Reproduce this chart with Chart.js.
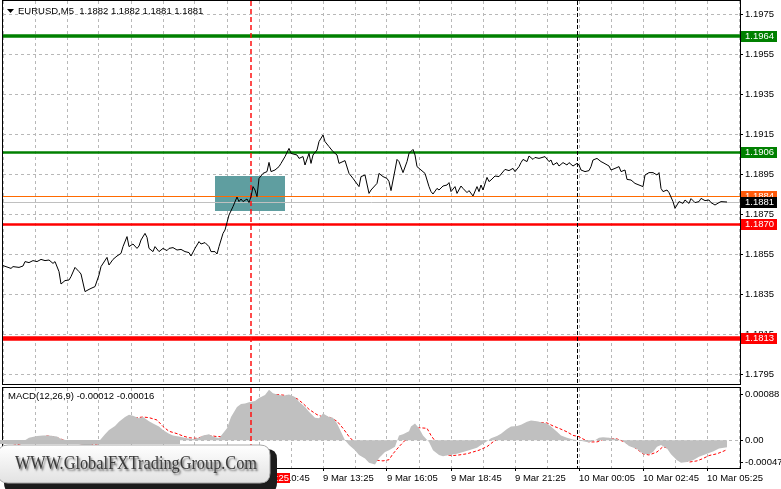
<!DOCTYPE html>
<html>
<head>
<meta charset="utf-8">
<script src="https://cdn.jsdelivr.net/npm/chart.js@4.4.1/dist/chart.umd.min.js"></script>
<style>
html, body { margin: 0; padding: 0; background: #fff; overflow: hidden; }
#wrap { position: relative; width: 781px; height: 489px; }
canvas { position: absolute; left: 0; }
#main { top: 0; }
#macd { top: 386px; }
</style>
</head>
<body>
<div id="wrap">
<canvas id="main" width="781" height="386"></canvas>
<canvas id="macd" width="781" height="103"></canvas>
</div>
<script>
// ===============================
// Data (bars = 5 minute bars counted from 9 Mar 00:00)
// ===============================
const symbolTitle = "EURUSD,M5  1.1882 1.1882 1.1881 1.1881";
const macdTitle = "MACD(12,26,9) -0.00012 -0.00016";
const watermarkText = "WWW.GlobalFXTradingGroup.Com";

const priceBar = [1,5,6,9,11,12,14,16,18,20,22,24,26,27,29,30,32,34,35,37,39,40,42,44,45,47,49,50,53,54,56,58,60,61,63,64,66,68,69,70,72,73,74,76,77,79,81,83,84,86,88,90,92,94,95,97,99,100,102,104,105,107,108,109,111,112,114,116,118,119,120,121,123,124,125,126,127,128,129,131,133,134,135,137,139,140,142,144,145,148,149,151,152,154,155,156,158,159,161,162,164,166,168,169,172,174,176,179,180,182,184,185,188,189,191,193,194,195,197,198,199,201,203,204,206,207,208,210,212,214,215,216,218,219,221,223,224,225,227,228,230,231,233,234,236,238,239,240,241,243,244,245,247,249,252,254,256,257,259,260,261,263,264,266,267,269,272,274,275,276,278,279,281,283,284,286,288,289,290,292,294,295,296,298,300,301,304,305,307,309,310,312,313,315,317,319,321,322,324,326,328,329,330,331,333,334,336,337,339,341,342,344,345,347,349,350,352,354,355,357,359,360,363];
const priceClose = [1.18492,1.18478,1.18487,1.18483,1.18490,1.18512,1.18507,1.18517,1.18512,1.18523,1.18517,1.18520,1.18503,1.18512,1.18462,1.18400,1.18417,1.18420,1.18437,1.18483,1.18462,1.18450,1.18362,1.18373,1.18378,1.18387,1.18445,1.18487,1.18533,1.18495,1.18523,1.18540,1.18553,1.18587,1.18637,1.18587,1.18600,1.18578,1.18590,1.18620,1.18653,1.18633,1.18578,1.18562,1.18587,1.18562,1.18578,1.18567,1.18578,1.18582,1.18570,1.18573,1.18562,1.18557,1.18540,1.18578,1.18612,1.18600,1.18607,1.18587,1.18562,1.18562,1.18550,1.18587,1.18653,1.18670,1.18745,1.18787,1.18835,1.18812,1.18825,1.18812,1.18825,1.18807,1.18837,1.18887,1.18870,1.18837,1.18928,1.18953,1.18962,1.19008,1.18962,1.18970,1.18987,1.19003,1.19037,1.19078,1.19053,1.19045,1.19028,1.19037,1.18995,1.19053,1.19003,1.19045,1.19070,1.19112,1.19145,1.19112,1.19087,1.19062,1.19045,1.19003,1.19017,1.18953,1.18928,1.18887,1.18937,1.18945,1.18853,1.18870,1.18903,1.18953,1.18937,1.18928,1.18912,1.18867,1.18970,1.19023,1.19012,1.18957,1.19012,1.19053,1.19073,1.19045,1.18987,1.18970,1.18953,1.18887,1.18862,1.18850,1.18878,1.18870,1.18890,1.18895,1.18907,1.18862,1.18887,1.18853,1.18890,1.18878,1.18857,1.18867,1.18840,1.18887,1.18862,1.18895,1.18870,1.18933,1.18912,1.18920,1.18940,1.18937,1.18973,1.18967,1.18978,1.18962,1.18987,1.19007,1.19023,1.19012,1.19040,1.19023,1.19033,1.19028,1.19037,1.19012,1.19020,1.18995,1.19007,1.18990,1.19007,1.18995,1.19007,1.18990,1.19003,1.18995,1.18970,1.18962,1.18967,1.18987,1.19020,1.19028,1.19012,1.19007,1.18990,1.18970,1.18978,1.18987,1.18962,1.18970,1.18923,1.18920,1.18903,1.18895,1.18887,1.18945,1.18957,1.18957,1.18945,1.18957,1.18878,1.18862,1.18870,1.18857,1.18812,1.18778,1.18812,1.18803,1.18820,1.18803,1.18827,1.18807,1.18812,1.18828,1.18817,1.18820,1.18807,1.18795,1.18807,1.18812,1.18810];

const macdBar = [1,8,12,14,18,21,24,28,30,33,38,44,49,52,54,57,59,62,64,66,69,71,74,76,79,81,84,86,89,93,96,99,101,104,106,109,113,115,118,120,122,124,127,129,132,134,136,139,141,144,147,149,152,154,157,159,161,164,166,168,170,172,174,177,179,182,184,187,189,192,194,197,199,201,204,205,207,209,211,214,216,219,221,224,228,231,234,238,240,243,245,248,250,253,255,258,260,263,265,268,270,273,275,278,280,283,286,289,291,294,297,299,301,304,308,311,314,318,321,324,326,328,330,333,335,338,340,343,346,349,353,356,359,363];
const macdMain = [-0.00002,-0.00001,0,0.00004,0.00007,0.00008,0.00008,0.00006,0.00002,0,-0.00006,-0.00010,-0.00002,0.00010,0.00017,0.00024,0.00031,0.00039,0.00043,0.00041,0.00037,0.00039,0.00032,0.00028,0.00023,0.00017,0.00011,0.00008,0.00006,0.00003,0.00002,0.00004,0.00008,0.00010,0.00006,0.00003,0.00020,0.00039,0.00056,0.00061,0.00062,0.00064,0.00066,0.00071,0.00076,0.00085,0.00079,0.00076,0.00075,0.00077,0.00073,0.00065,0.00056,0.00048,0.00038,0.00037,0.00045,0.00039,0.00038,0.00028,0.00014,0,-0.00008,-0.00017,-0.00025,-0.00031,-0.00038,-0.00041,-0.00030,-0.00020,-0.00017,-0.00011,0.00008,0.00010,0.00015,0.00023,0.00028,0.00020,0.00008,-0.00003,-0.00017,-0.00025,-0.00027,-0.00025,-0.00023,-0.00020,-0.00017,-0.00013,-0.00008,-0.00002,0.00003,0.00007,0.00011,0.00019,0.00023,0.00024,0.00026,0.00031,0.00033,0.00032,0.00030,0.00028,0.00023,0.00014,0.00008,0.00004,0.00001,0,-0.00002,-0.00004,0,0.00004,0.00005,0.00004,0.00002,-0.00002,-0.00010,-0.00015,-0.00023,-0.00024,-0.00020,-0.00011,-0.00008,-0.00014,-0.00024,-0.00034,-0.00038,-0.00037,-0.00034,-0.00028,-0.00023,-0.00019,-0.00014,-0.00012];

const signalBar = [1,6,10,13,16,19,23,26,29,33,40,47,54,58,61,64,68,71,74,78,81,84,88,91,94,98,101,104,108,111,114,118,121,124,128,131,134,138,141,144,148,151,154,158,161,164,168,171,174,178,181,184,188,191,194,196,199,203,206,209,213,215,218,220,223,226,229,233,236,239,243,246,249,253,256,259,263,266,269,273,276,279,283,286,289,291,294,298,301,304,308,311,314,318,321,324,328,331,334,338,341,344,348,351,354,358,361,363];
const signalValue = [-0.00012,-0.00009,-0.00006,-0.00004,0.00002,0.00005,0.00007,0.00006,0.00003,-0.00002,-0.00006,-0.00007,-0.00003,0.00014,0.00026,0.00034,0.00038,0.00039,0.00038,0.00034,0.00023,0.00015,0.00011,0.00007,0.00004,0.00003,0.00006,0.00008,0.00006,0.00006,0.00017,0.00032,0.00048,0.00058,0.00062,0.00068,0.00075,0.00077,0.00076,0.00075,0.00070,0.00062,0.00052,0.00043,0.00039,0.00039,0.00032,0.00020,0.00006,-0.00008,-0.00020,-0.00028,-0.00034,-0.00035,-0.00033,-0.00023,-0.00011,0.00003,0.00014,0.00021,0.00020,0.00008,-0.00006,-0.00019,-0.00025,-0.00026,-0.00025,-0.00023,-0.00020,-0.00017,-0.00011,-0.00003,0.00004,0.00010,0.00015,0.00021,0.00025,0.00028,0.00030,0.00029,0.00024,0.00020,0.00014,0.00008,0.00006,0.00002,-0.00003,-0.00003,0.00001,0.00003,0.00002,-0.00002,-0.00007,-0.00015,-0.00023,-0.00025,-0.00020,-0.00011,-0.00014,-0.00024,-0.00032,-0.00037,-0.00035,-0.00031,-0.00026,-0.00023,-0.00019,-0.00016];

const priceTicks = [1.1795, 1.1815, 1.1835, 1.1855, 1.1875, 1.1895, 1.1915, 1.1935, 1.1955, 1.1975];
const resistanceLevels = [1.1964, 1.1906];
const supportLevels = [1.1870, 1.1813];
const askPrice = 1.1884;
const bidPrice = 1.1881;
const zoneBars = [107, 142];
const zonePrices = [1.18765, 1.1894];
const entryBar = 125;        // 9 Mar 10:25
const daySeparatorBar = 288; // 10 Mar 00:00
const macdMax = 0.00088;
const macdMin = -0.00047;

// ===============================
// Helpers
// ===============================
const FONT = '9.5px "Liberation Sans", Arial, sans-serif';
const GRID = '#b8b8b8';
const xMin = 1, xMax = 369.5;
const gridBars = [];
for (let b = 1; b <= xMax; b += 16) gridBars.push(b);

function barLabel(b) {
    const m = b * 5;
    const day = 9 + Math.floor(m / 1440);
    const hh = Math.floor((m % 1440) / 60);
    const mm = m % 60;
    return day + " Mar " + String(hh).padStart(2, "0") + ":" + String(mm).padStart(2, "0");
}

function points(xs, ys) {
    return xs.map((b, i) => ({ x: b, y: ys[i] }));
}

function hline(chart, price, color, width) {
    const { ctx, chartArea: a, scales: { y } } = chart;
    let py = y.getPixelForValue(price);
    if (Math.round(width) % 2 === 1) py = Math.round(py) + 0.5;
    ctx.save();
    ctx.strokeStyle = color;
    ctx.lineWidth = width;
    ctx.beginPath();
    ctx.moveTo(a.left, py);
    ctx.lineTo(a.right, py);
    ctx.stroke();
    ctx.restore();
}

function vline(chart, bar, color, dash, width) {
    const { ctx, chartArea: a, scales: { x } } = chart;
    const lw = width || 1;
    const px = Math.round(x.getPixelForValue(bar)) + (lw === 1 ? 0.5 : 0);
    ctx.save();
    ctx.strokeStyle = color;
    ctx.lineWidth = lw;
    ctx.setLineDash(dash);
    ctx.beginPath();
    ctx.moveTo(px, a.top);
    ctx.lineTo(px, a.bottom);
    ctx.stroke();
    ctx.restore();
}

function frame(chart) {
    const { ctx, chartArea: a } = chart;
    ctx.save();
    ctx.strokeStyle = '#000';
    ctx.lineWidth = 1;
    ctx.strokeRect(a.left - 0.5, a.top - 0.5, a.right - a.left + 1, a.bottom - a.top + 1);
    ctx.restore();
}

function priceTag(chart, price, bg, fg) {
    const { ctx, chartArea: a, scales: { y } } = chart;
    const py = Math.round(y.getPixelForValue(price));
    ctx.save();
    ctx.fillStyle = bg;
    ctx.fillRect(a.right + 1, py - 5, 36, 11);
    ctx.fillStyle = fg;
    ctx.font = FONT;
    ctx.textBaseline = 'middle';
    ctx.fillText(price.toFixed(4), a.right + 5, py + 0.5);
    ctx.restore();
}

function roundRect(ctx, x, y, w, h, r) {
    ctx.beginPath();
    ctx.moveTo(x + r, y);
    ctx.lineTo(x + w - r, y);
    ctx.quadraticCurveTo(x + w, y, x + w, y + r);
    ctx.lineTo(x + w, y + h - r);
    ctx.quadraticCurveTo(x + w, y + h, x + w - r, y + h);
    ctx.lineTo(x + r, y + h);
    ctx.quadraticCurveTo(x, y + h, x, y + h - r);
    ctx.lineTo(x, y + r);
    ctx.quadraticCurveTo(x, y, x + r, y);
    ctx.closePath();
}

Chart.defaults.font.family = '"Liberation Sans", Arial, sans-serif';
Chart.defaults.font.size = 9.5;
Chart.defaults.color = '#000';

// ===============================
// Plugin: main window objects
// ===============================
const mainDecor = {
    id: 'mainDecor',
    beforeDatasetsDraw(chart) {
        const { ctx, chartArea: a, scales: { x, y } } = chart;
        ctx.save();
        ctx.beginPath();
        ctx.rect(a.left, a.top, a.right - a.left, a.bottom - a.top);
        ctx.clip();

        // rectangle zone
        const x0 = x.getPixelForValue(zoneBars[0]);
        const x1 = x.getPixelForValue(zoneBars[1]);
        const y0 = y.getPixelForValue(zonePrices[1]);
        const y1 = y.getPixelForValue(zonePrices[0]);
        ctx.fillStyle = '#5f9ea0';
        ctx.fillRect(Math.round(x0), Math.round(y0), Math.round(x1 - x0), Math.round(y1 - y0));

        hline(chart, bidPrice, '#c0c0c0', 1);
        hline(chart, askPrice, '#ff6a00', 1);
        hline(chart, resistanceLevels[0], '#008000', 3.5);
        hline(chart, resistanceLevels[1], '#008000', 2.5);
        hline(chart, supportLevels[0], '#ff0000', 2.5);
        hline(chart, supportLevels[1], '#ff0000', 4.5);

        vline(chart, entryBar, '#ff1010', [5, 3], 1.5);
        vline(chart, daySeparatorBar, '#000', [4, 2]);
        ctx.restore();
    },
    afterDraw(chart) {
        const { ctx } = chart;
        frame(chart);
        priceTag(chart, resistanceLevels[0], '#008000', '#fff');
        priceTag(chart, resistanceLevels[1], '#008000', '#fff');
        priceTag(chart, askPrice, '#ff5a0a', '#fff');
        priceTag(chart, bidPrice, '#000', '#fff');
        priceTag(chart, supportLevels[0], '#ff0000', '#fff');
        priceTag(chart, supportLevels[1], '#ff0000', '#fff');

        // title
        ctx.save();
        ctx.fillStyle = '#000';
        ctx.beginPath();
        ctx.moveTo(7, 9); ctx.lineTo(14, 9); ctx.lineTo(10.5, 13);
        ctx.closePath();
        ctx.fill();
        ctx.font = FONT;
        ctx.textBaseline = 'middle';
        ctx.fillText(symbolTitle, 18, 11.5);
        ctx.restore();
    }
};

// ===============================
// Plugin: MACD window objects
// ===============================
const macdDecor = {
    id: 'macdDecor',
    afterDatasetsDraw(chart) {
        vline(chart, entryBar, '#ff1010', [5, 3], 1.5);
        vline(chart, daySeparatorBar, '#000', [4, 2]);
    },
    afterDraw(chart) {
        const { ctx, chartArea: a } = chart;
        frame(chart);

        ctx.save();
        ctx.font = FONT;
        ctx.fillStyle = '#000';
        ctx.textBaseline = 'middle';
        ctx.fillText(macdTitle, 8, 10);

        // min / max scale labels
        [[a.top + 6, macdMax.toFixed(5)], [a.bottom - 6, macdMin.toFixed(5)]].forEach(([py, txt]) => {
            ctx.fillRect(a.right, Math.round(py), 3, 1);
            ctx.fillText(txt, a.right + 5, Math.round(py) + 0.5);
        });

        // time tag of the vertical line
        ctx.fillStyle = '#ff0000';
        ctx.fillRect(234, a.bottom + 5, 56, 10);
        ctx.fillStyle = '#fff';
        ctx.textAlign = 'right';
        ctx.fillText(barLabel(entryBar), 289, a.bottom + 10.5);
        ctx.restore();

        drawWatermark(ctx);
    }
};

function drawWatermark(ctx) {
    ctx.save();
    ctx.translate(0, -386);
    // soft strip above the box
    ctx.fillStyle = '#bdbdbd';
    ctx.fillRect(0, 440, 180, 4);

    // dark shadow
    ctx.fillStyle = '#1c1c1c';
    roundRect(ctx, 4, 449, 273, 44, 10);
    ctx.fill();

    // box
    const g = ctx.createLinearGradient(0, 445, 0, 483);
    g.addColorStop(0, '#ffffff');
    g.addColorStop(1, '#e2e2e2');
    ctx.fillStyle = g;
    roundRect(ctx, -2, 445, 272, 38, 10);
    ctx.fill();
    ctx.strokeStyle = '#a8a8a8';
    ctx.lineWidth = 1;
    ctx.stroke();

    // text
    ctx.font = '18px "Liberation Serif", "DejaVu Serif", serif';
    const w = ctx.measureText(watermarkText).width;
    ctx.translate(15, 469);
    ctx.scale(242 / w, 1);
    ctx.shadowColor = 'rgba(0,0,0,0.55)';
    ctx.shadowBlur = 2;
    ctx.shadowOffsetX = 1.5;
    ctx.shadowOffsetY = 1.5;
    ctx.fillStyle = '#3a3a3a';
    ctx.fillText(watermarkText, 0, 0);
    ctx.restore();
}

// ===============================
// Main price chart
// ===============================
new Chart(document.getElementById('main'), {
    type: 'line',
    data: {
        datasets: [{
            data: points(priceBar, priceClose),
            borderColor: '#000',
            borderWidth: 1,
            pointRadius: 0,
            tension: 0
        }]
    },
    options: {
        responsive: false,
        animation: false,
        devicePixelRatio: 1,
        events: [],
        layout: { padding: { left: 3, top: 1, right: 0, bottom: 2 } },
        plugins: { legend: { display: false }, tooltip: { enabled: false } },
        scales: {
            x: {
                type: 'linear', min: xMin, max: xMax,
                afterBuildTicks: s => { s.ticks = gridBars.map(v => ({ value: v })); },
                ticks: { display: false },
                grid: { color: GRID, drawTicks: false },
                border: { display: false, dash: [3, 3] },
                afterFit: s => { s.height = 0; s.paddingLeft = 0; s.paddingRight = 0; }
            },
            y: {
                position: 'right', min: 1.1790, max: 1.19815,
                afterBuildTicks: s => { s.ticks = priceTicks.map(v => ({ value: v })); },
                ticks: { padding: 2, callback: v => v.toFixed(4) },
                grid: { color: GRID, tickLength: 3, tickColor: '#000' },
                border: { display: false, dash: [3, 3] },
                afterFit: s => { s.width = 41; s.paddingTop = 0; s.paddingBottom = 0; }
            }
        }
    },
    plugins: [mainDecor]
});

// ===============================
// MACD sub window
// ===============================
new Chart(document.getElementById('macd'), {
    type: 'line',
    data: {
        datasets: [{
            data: points(macdBar, macdMain),
            borderWidth: 0,
            backgroundColor: '#c0c0c0',
            fill: 'origin',
            pointRadius: 0,
            tension: 0
        }, {
            data: points(signalBar, signalValue),
            borderColor: '#ff0000',
            borderWidth: 1,
            borderDash: [3, 2],
            fill: false,
            pointRadius: 0,
            tension: 0
        }]
    },
    options: {
        responsive: false,
        animation: false,
        devicePixelRatio: 1,
        events: [],
        layout: { padding: { left: 3, top: 2, right: 0, bottom: 0 } },
        plugins: { legend: { display: false }, tooltip: { enabled: false } },
        scales: {
            x: {
                type: 'linear', min: xMin, max: xMax,
                afterBuildTicks: s => { s.ticks = gridBars.map(v => ({ value: v })); },
                ticks: {
                    autoSkip: false, maxRotation: 0, align: 'start', padding: 2,
                    callback: v => ((v - 1) % 32 === 0 ? barLabel(v) : '')
                },
                grid: {
                    color: GRID, tickLength: 3,
                    tickColor: c => (c.tick && (c.tick.value - 1) % 32 === 0 ? '#000' : 'rgba(0,0,0,0)')
                },
                border: { display: false, dash: [3, 3] },
                afterFit: s => { s.height = 21; s.paddingLeft = 0; s.paddingRight = 0; }
            },
            y: {
                position: 'right', min: macdMin, max: macdMax,
                afterBuildTicks: s => { s.ticks = [{ value: 0 }]; },
                ticks: { padding: 2, callback: () => '0.00' },
                grid: { color: GRID, tickLength: 3, tickColor: '#000' },
                border: { display: false, dash: [3, 3] },
                afterFit: s => { s.width = 41; s.paddingTop = 0; s.paddingBottom = 0; }
            }
        }
    },
    plugins: [macdDecor]
});
</script>
</body>
</html>
